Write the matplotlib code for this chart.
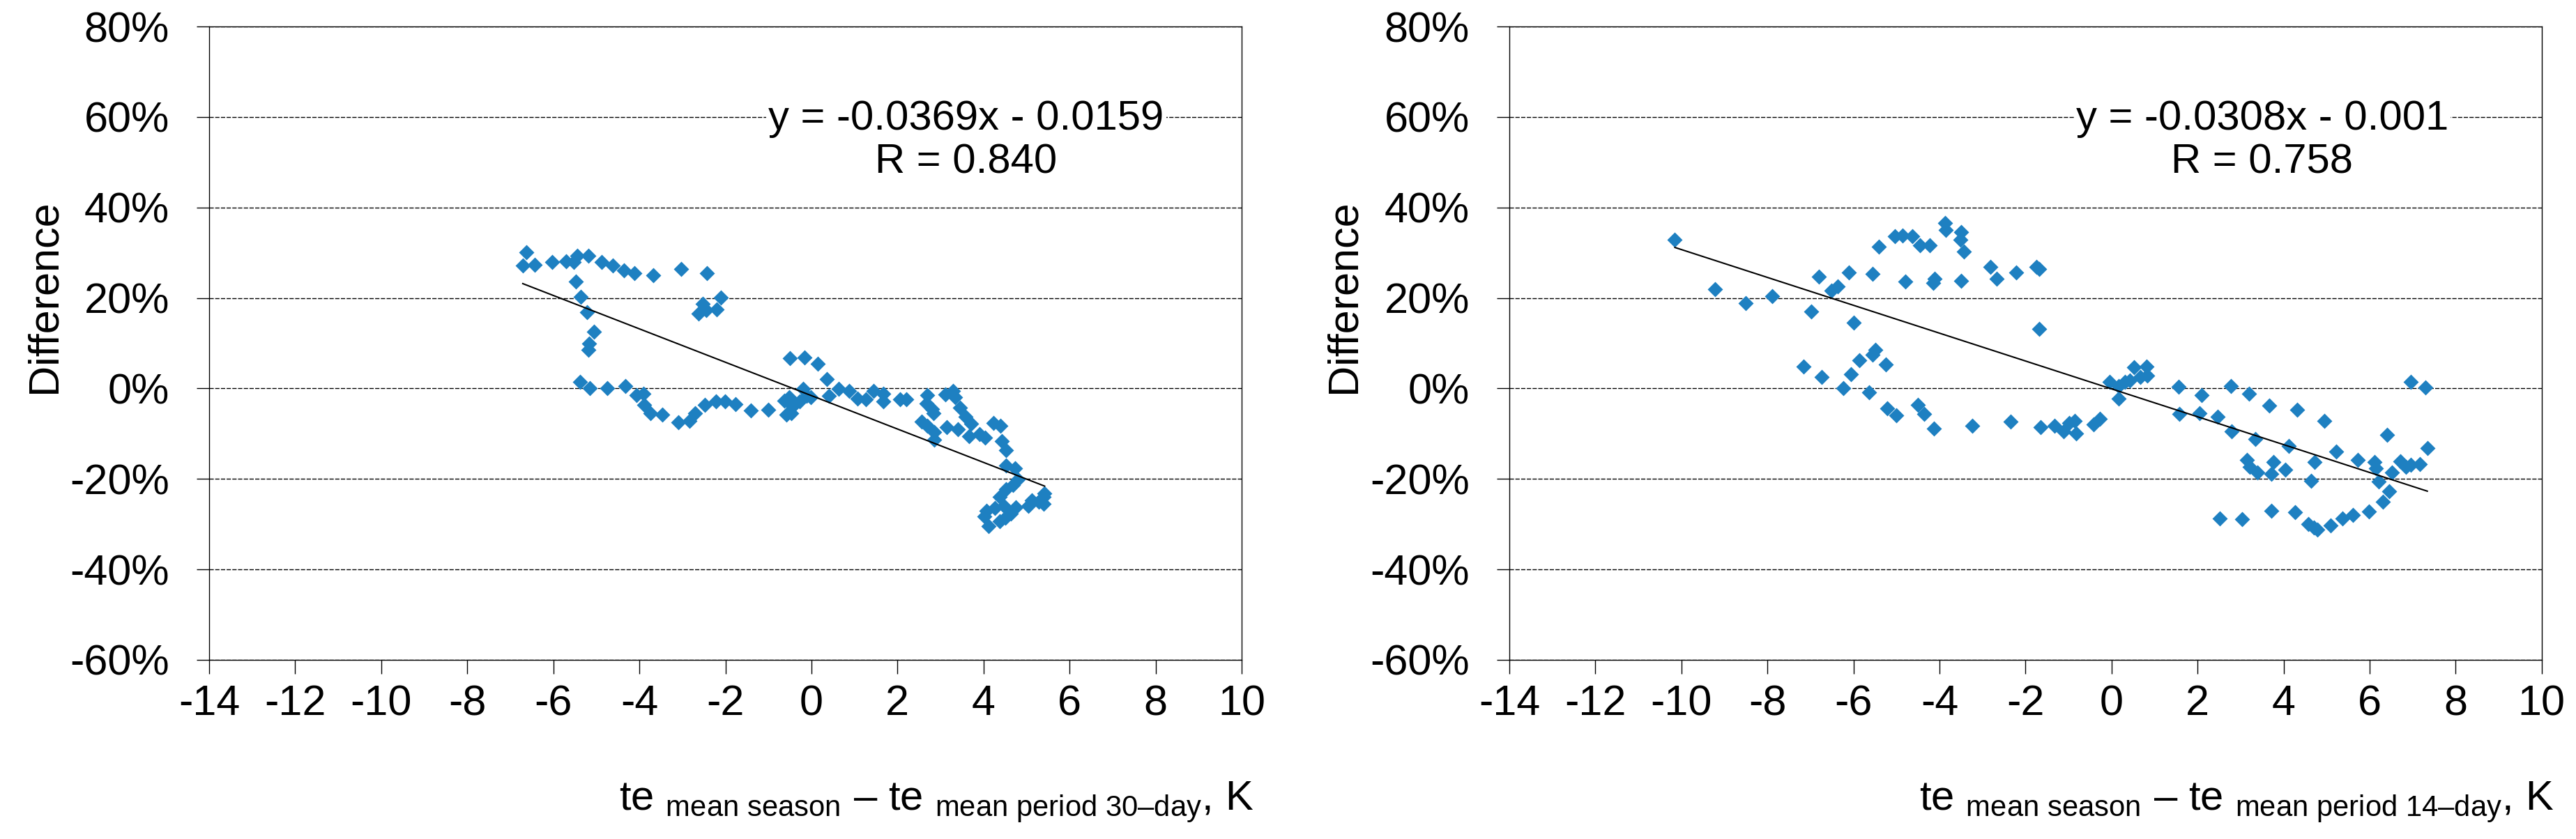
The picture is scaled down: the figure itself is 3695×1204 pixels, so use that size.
import numpy as np
import matplotlib.pyplot as plt

plt.rcParams['font.family'] = ['Liberation Sans', 'DejaVu Sans']
plt.rcParams['axes.unicode_minus'] = False
plt.rcParams['mathtext.fontset'] = 'custom'
plt.rcParams['mathtext.rm'] = 'Liberation Sans'
plt.rcParams['mathtext.it'] = 'Liberation Sans'

# left panel: 30-day period
x30 = [-6.63, -6.71, -6.44, -6.03, -5.71, -5.52, -5.45, -5.19, -4.87, -4.61,
       -4.36, -4.12, -3.67, -3.03, -2.43, -5.48, -5.37, -5.21, -5.06, -5.17,
       -5.19, -2.11, -2.52, -2.63, -2.44, -2.20, -5.38, -5.16, -4.75, -4.33,
       -4.06, -3.91, -3.89, -3.75, -3.47, -3.10, -2.83, -2.71, -2.48, -2.22,
       -2.01, -1.77, -1.41,
       -1.00, -0.63, -0.575, -0.47, -0.52, -0.44, -0.28, -0.20, -0.12, -0.01,
       -0.505, -0.154, 0.143, 0.36, 0.41, 0.64, 0.88, 1.07, 1.26, 1.44,
       1.67, 1.67, 2.06, 2.21, 2.69, 2.67, 2.80, 2.83, 2.56, 2.69,
       2.86, 2.86, 3.12, 3.29, 3.34, 3.45, 3.59, 3.72, 3.14, 3.40,
       3.67, 3.91, 4.04, 4.23, 4.40, 4.42, 4.52, 4.53, 4.74, 4.80,
       4.69, 4.53, 4.37, 4.48, 4.26, 4.07, 4.02, 4.12, 4.37, 4.50,
       4.64, 4.75, 5.04, 5.12, 5.29, 5.39, 5.42, 5.39]
y30 = [0.301, 0.272, 0.273, 0.280, 0.281, 0.279, 0.294, 0.293, 0.280, 0.272,
       0.261, 0.255, 0.250, 0.264, 0.255, 0.236, 0.202, 0.168, 0.125, 0.099,
       0.086, 0.201, 0.187, 0.166, 0.173, 0.175, 0.014, 0.001, 0.001, 0.005,
       -0.015, -0.011, -0.037, -0.055, -0.058, -0.075, -0.071, -0.055, -0.037, -0.029,
       -0.029, -0.035, -0.049,
       -0.047, -0.027, -0.058, -0.055, -0.019, -0.040, -0.029, -0.001, -0.016, -0.019,
       0.067, 0.068, 0.055, 0.020, -0.016, -0.001, -0.006, -0.022, -0.024, -0.006,
       -0.011, -0.029, -0.024, -0.024, -0.014, -0.034, -0.045, -0.055, -0.073, -0.083,
       -0.096, -0.114, -0.013, -0.006, -0.019, -0.042, -0.063, -0.078, -0.086, -0.091,
       -0.106, -0.101, -0.109, -0.076, -0.083, -0.117, -0.137, -0.170, -0.176, -0.201,
       -0.214, -0.222, -0.240, -0.260, -0.265, -0.271, -0.283, -0.304, -0.294, -0.286,
       -0.276, -0.263, -0.260, -0.247, -0.250, -0.255, -0.232, -0.240]

# right panel: 14-day period
x14 = [-10.15, -9.22, -8.51, -7.89, -6.98, -6.81, -6.51, -6.36, -6.10, -6.00,
       -5.55, -5.41, -5.03, -4.86, -4.635, -4.45, -4.22, -4.79, -4.12, -4.15,
       -3.87, -3.86, -3.50, -3.51, -3.43, -3.49, -2.81, -2.67, -2.21, -1.75,
       -1.68, -1.69, -7.16, -6.74, -6.23, -6.05, -5.86, -5.55, -5.49, -5.25,
       -5.64, -5.21, -5.01, -4.505, -4.36, -4.13, -3.24, -2.34, -1.65, -1.32,
       -1.12, -0.86, -0.83, -0.98, -0.41, -0.28, -0.05, 0.17, 0.16, 0.31,
       0.43, 0.52, 0.67, 0.82, 0.83, 1.56, 1.58, 2.04, 2.10, 2.46,
       2.78, 2.79, 3.20, 3.34, 3.66, 4.12, 4.31, 4.95, 3.15, 3.21,
       3.39, 3.77, 3.72, 4.04, 4.72, 4.64, 5.22, 5.72, 6.12, 6.14,
       6.21, 6.46, 6.30, 6.40, 6.52, 6.72, 6.84, 6.96, 7.17, 6.96,
       7.29, 7.34, 2.51, 3.03, 3.72, 4.26, 4.58, 4.70, 4.79, 5.10,
       5.36, 5.61, 5.98]
y14 = [0.328, 0.219, 0.189, 0.204, 0.170, 0.247, 0.216, 0.225, 0.257, 0.146,
       0.254, 0.314, 0.336, 0.338, 0.336, 0.317, 0.317, 0.237, 0.242, 0.233,
       0.365, 0.351, 0.346, 0.329, 0.302, 0.238, 0.269, 0.242, 0.257, 0.268,
       0.264, 0.132, 0.048, 0.025, 0.000, 0.031, 0.062, 0.074, 0.085, 0.053,
       -0.008, -0.044, -0.059, -0.036, -0.057, -0.088, -0.083, -0.074, -0.086, -0.082,
       -0.095, -0.071, -0.100, -0.077, -0.079, -0.067, 0.015, -0.022, 0.005, 0.015,
       0.018, 0.047, 0.026, 0.049, 0.028, 0.004, -0.057, -0.055, -0.014, -0.063,
       0.006, -0.095, -0.012, -0.112, -0.038, -0.127, -0.047, -0.072, -0.158, -0.173,
       -0.185, -0.163, -0.189, -0.179, -0.163, -0.204, -0.139, -0.158, -0.162, -0.177,
       -0.205, -0.227, -0.250, -0.102, -0.185, -0.161, -0.173, -0.169, -0.167, 0.015,
       0.002, -0.132, -0.287, -0.289, -0.271, -0.274, -0.300, -0.307, -0.312, -0.303,
       -0.288, -0.279, -0.272]

slope30, icpt30, r30 = -0.0369, -0.0159, 0.840
slope14, icpt14, r14 = -0.0308, -0.001, 0.758

xticks = [-14, -12, -10, -8, -6, -4, -2, 0, 2, 4, 6, 8, 10]
yticks = [-0.6, -0.4, -0.2, 0.0, 0.2, 0.4, 0.6, 0.8]
ytick_labels = ["-60%", "-40%", "-20%", "0%", "20%", "40%", "60%", "80%"]

fig = plt.figure(figsize=(36.95, 12.04), dpi=100)

panels = [
    (x30, y30, slope30, icpt30, r30, "30", "0.0159", 0.0812, 3.6, 64 / 3695, 1798 / 3695),
    (x14, y14, slope14, icpt14, r14, "14", "0.001", 0.5859, 3.5, 1928 / 3695, 3663 / 3695),
]

for xs, ys, k, b, r, days, b_txt, left, eq_x, ylab_x, xlab_x in panels:
    ax = fig.add_axes([left, 0.2135, 0.4008, 0.7549])
    ax.scatter(xs, ys, marker='D', s=125, color='#1e80c1', linewidths=0, zorder=3)

    xl = np.array([min(xs), max(xs)])
    ax.plot(xl, k * xl + b, color='black', lw=1.5, zorder=4)

    ax.set_xlim(-14, 10)
    ax.set_ylim(-0.6, 0.8)
    ax.set_xticks(xticks)
    ax.set_xticklabels([str(t) for t in xticks])
    ax.set_yticks(yticks)
    ax.set_yticklabels(ytick_labels)
    ax.tick_params(axis='x', direction='out', length=14.4, width=1.0,
                   pad=11, labelsize=44)
    ax.tick_params(axis='y', direction='out', length=13, width=1.0,
                   pad=28, labelsize=44)
    ax.yaxis.grid(True, color='black', linewidth=1.0, linestyle=(0, (4.4, 1.5)))
    for sp in ax.spines.values():
        sp.set_linewidth(1.0)
        sp.set_color('black')

    eq = f"y = {k:.4f}x - {b_txt}\nR = {r:.3f}"
    ax.text(eq_x, 0.548, eq, ha='center', va='center', fontsize=43,
            linespacing=1.18, zorder=5,
            bbox=dict(facecolor='white', edgecolor='none', pad=2))

    fig.text(ylab_x, (1204 - 425) / 1204, "Difference", rotation=90,
             ha='center', va='center', fontsize=44)
    fig.text(xlab_x, 41 / 1204,
             r"te $_{\mathrm{mean\ season}}$ – te $_{\mathrm{mean\ period\ " + days + r"–day}}$, K",
             ha='right', va='baseline', fontsize=43)

fig.savefig("out.png", dpi=100)
